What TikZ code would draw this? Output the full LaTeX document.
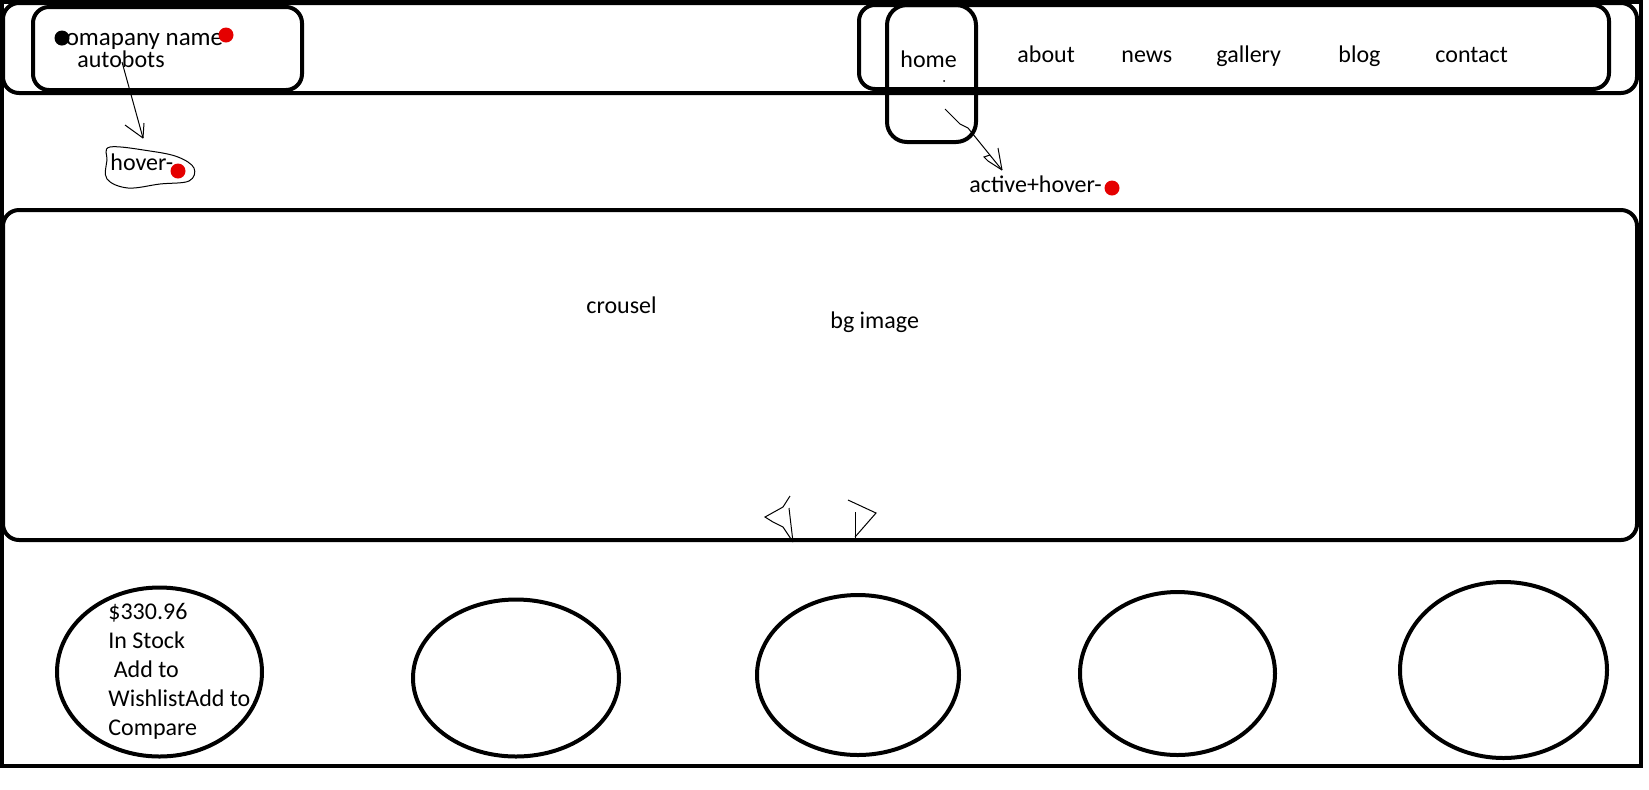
\documentclass[tikz,border=0pt]{standalone}
\usepackage{fontspec}
\setmainfont{Carlito}
\usetikzlibrary{shapes.geometric}
\begin{document}
\begin{tikzpicture}[x=0.5pt,y=-0.5pt,
  thickbox/.style={draw=black,line width=2pt,inner sep=0pt,outer sep=0pt,anchor=north west},
  oval/.style={draw=black,line width=2pt,ellipse,inner sep=0pt,outer sep=0pt},
  lbl/.style={inner sep=0pt,anchor=base west,font=\fontsize{12}{14.5}\selectfont},
  reddot/.style={fill=red!90!black,draw=none,circle,minimum size=7.5pt,inner sep=0pt},
  blackdot/.style={fill=black,draw=none,circle,minimum size=7.5pt,inner sep=0pt},
  thinline/.style={draw=black,line width=0.5pt}]
\useasboundingbox (0,0) rectangle (1649,789);
\fill[white] (0,0) rectangle (1649,789);
% frames
\node[thickbox,minimum width=819.5pt,minimum height=382pt] (frame) at (2,2) {};
\node[thickbox,rounded corners=8pt,minimum width=817pt,minimum height=45pt] (header) at (3,3) {};
\node[thickbox,rounded corners=8pt,minimum width=134.5pt,minimum height=41.5pt] (company) at (33,7) {};
\node[thickbox,rounded corners=8pt,minimum width=375pt,minimum height=42pt] (nav) at (859,5) {};
\node[thickbox,rounded corners=10pt,minimum width=44.5pt,minimum height=68.5pt] (homebox) at (887,5) {};
\node[thickbox,rounded corners=8pt,minimum width=817pt,minimum height=165pt] (carousel) at (3,210) {};
% ellipses
\node[oval,minimum width=102.5pt,minimum height=84.5pt] (e1) at (159.5,672) {};
\node[oval,minimum width=103pt,minimum height=78.5pt] (e2) at (516,678) {};
\node[oval,minimum width=101pt,minimum height=80pt] (e3) at (858,675) {};
\node[oval,minimum width=97.5pt,minimum height=81.5pt] (e4) at (1177.5,673.5) {};
\node[oval,minimum width=103.5pt,minimum height=88pt] (e5) at (1503.5,670) {};
% header texts
\node[lbl,font=\fontsize{12.5}{15}\selectfont] (cname) at (55,45) {comapany name};
\node[blackdot] (bdot) at (62,38) {};
\node[reddot] (rdot1) at (226,35) {};
\node[lbl] (autobots) at (77,67) {autobots};
\node[lbl] (home) at (900,67) {home};
\fill (944,81) circle (0.5pt);
\node[lbl] (about) at (1017,62) {about};
\node[lbl] (news) at (1121,62) {news};
\node[lbl] (gallery) at (1216,62) {gallery};
\node[lbl] (blog) at (1338,62) {blog};
\node[lbl] (contact) at (1435,62) {contact};
% hover
\node[lbl] (hover) at (110,170) {hover-};
\node[reddot] (rdot2) at (178,171) {};
\draw[thinline] plot[smooth cycle,tension=0.6] coordinates {(110,147) (150,151) (178,157) (194,168) (189,181) (160,184) (128,188) (107,179) (107,160)};
\node[lbl] (active) at (969,192) {active+hover-};
\node[reddot] (rdot3) at (1112,188) {};
% arrows
\coordinate (a1s) at (122,62);
\coordinate (a1e) at (143,138);
\draw[thinline] (a1s) -- (a1e);
\draw[thinline] (a1e) -- ++(-18,-13);
\draw[thinline] (a1e) -- ++(1,-15);
\coordinate (a2s) at (945,109);
\coordinate (a2e) at (1002,170);
\draw[thinline] (a2s) -- (960,124) -- (968,128) -- (a2e);
\draw[thinline] (a2e) -- (988,161) -- (984,157) -- (990,155);
\draw[thinline] (a2e) -- (998,148);
% carousel texts
\node[lbl] (crousel) at (586,313) {crousel};
\node[lbl] (bgimage) at (830,328) {bg image};
% carousel arrows
\draw[thinline] (790,496) -- (783,507) -- (765,517) -- (773,522) -- (783,527) -- (793,542);
\draw[thinline] (789,508) -- (793,542);
\draw[thinline] (848,500) -- (876,513) -- (855,537);
\draw[thinline] (855,512) -- (855,538);
% product text
\node[lbl,align=left,anchor=north west] (prod) at (108,603) {\$330.96\\In Stock\\\ Add to\\WishlistAdd to\\Compare};
\end{tikzpicture}
\end{document}
